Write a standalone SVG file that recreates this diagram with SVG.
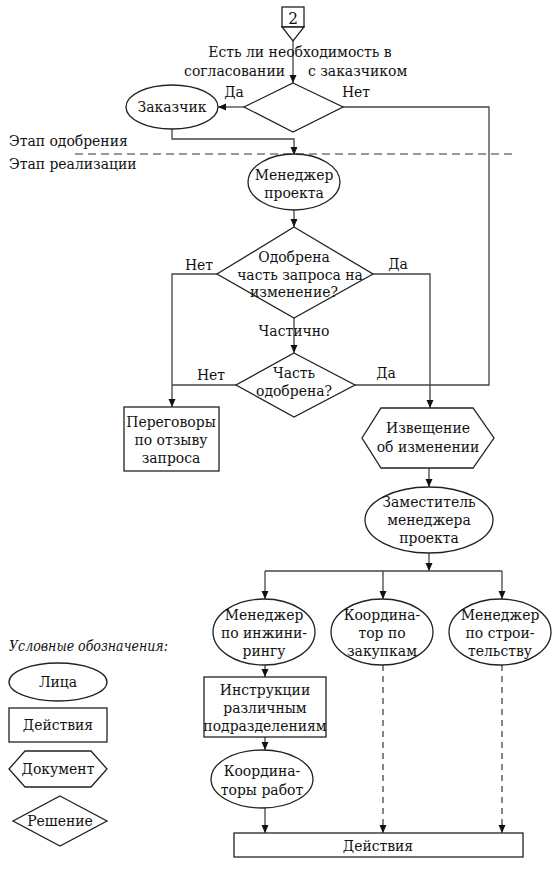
<svg xmlns="http://www.w3.org/2000/svg" width="559" height="870" viewBox="0 0 559 870">
<defs>
<marker id="ah" markerUnits="userSpaceOnUse" markerWidth="9" markerHeight="8" refX="8" refY="4" orient="auto">
<path d="M0,0.5 L8,4 L0,7.5 z" fill="#111"/>
</marker>
<style>
text{font-family:'DejaVu Serif Condensed','Liberation Serif',serif;font-size:15.5px;fill:#111;text-anchor:middle}
.st{text-anchor:start}
.en{text-anchor:end}
.it{font-style:italic;font-size:14px}
.s{fill:#fff;stroke:#222;stroke-width:1.3}
.c{fill:none;stroke:#444;stroke-width:1.3}
.d{fill:none;stroke:#444;stroke-width:1.3;stroke-dasharray:6 5}
</style>
</defs>
<rect width="559" height="870" fill="#fff"/>

<g id="stage-labels">
<text class="st" x="9" y="146">Этап одобрения</text>
<text class="st" x="9" y="169">Этап реализации</text>
<line x1="75" y1="154" x2="512" y2="154" stroke="#777" stroke-width="1.6" stroke-dasharray="8 5"/>
</g>

<g id="connectors">
<path class="c" d="M293,41 V83" marker-end="url(#ah)"/>
<path class="c" d="M244,107 H218" marker-end="url(#ah)"/>
<path class="c" d="M343,107 H489 V385 H355"/>
<path class="c" d="M172,129 V139 H294 V155" marker-end="url(#ah)"/>
<path class="c" d="M294,210 V227" marker-end="url(#ah)"/>
<path class="c" d="M217,274 H172 V407" marker-end="url(#ah)"/>
<path class="c" d="M373,274 H430 V408" marker-end="url(#ah)"/>
<path class="c" d="M294,318 V353" marker-end="url(#ah)"/>
<path class="c" d="M236,385 H172"/>
<path class="c" d="M429,468 V487" marker-end="url(#ah)"/>
<path class="c" d="M429,553 V571" marker-end="url(#ah)"/>
<path class="c" d="M265,571 H502"/>
<path class="c" d="M265,571 V599" marker-end="url(#ah)"/>
<path class="c" d="M383,571 V599" marker-end="url(#ah)"/>
<path class="c" d="M502,571 V599" marker-end="url(#ah)"/>
<path class="c" d="M265,665 V677" marker-end="url(#ah)"/>
<path class="c" d="M265,737 V750" marker-end="url(#ah)"/>
<path class="c" d="M265,808 V833" marker-end="url(#ah)"/>
<path class="d" d="M383,665 V833" marker-end="url(#ah)"/>
<path class="d" d="M502,665 V833" marker-end="url(#ah)"/>
</g>

<g id="connector-labels">
<text x="300" y="57">Есть ли необходимость в</text>
<text class="en" x="285" y="76">согласовании</text>
<text class="st" x="308" y="76">с заказчиком</text>
<text x="234" y="97">Да</text>
<text x="356" y="97">Нет</text>
<text x="199" y="270">Нет</text>
<text x="398" y="269">Да</text>
<text x="294" y="336">Частично</text>
<text x="211" y="380">Нет</text>
<text x="386" y="378">Да</text>
</g>

<g id="start">
<rect class="s" x="282" y="7" width="22" height="20"/>
<polygon class="s" points="282,27 304,27 293,41"/>
<text x="293" y="24" style="font-size:17px">2</text>
</g>

<g id="decision-customer">
<polygon class="s" points="293,83 343,107 293,132 244,107"/>
</g>

<g id="customer">
<ellipse class="s" cx="172" cy="107" rx="46" ry="22"/>
<text x="172" y="112">Заказчик</text>
</g>

<g id="project-manager">
<ellipse class="s" cx="294" cy="182" rx="46" ry="28"/>
<text x="294" y="180">Менеджер</text>
<text x="294" y="198">проекта</text>
</g>

<g id="decision-approved">
<polygon class="s" points="294,227 373,274 294,318 217,274"/>
<text x="294" y="262">Одобрена</text>
<text x="300" y="280">часть запроса на</text>
<text x="294" y="297">изменение?</text>
</g>

<g id="decision-part">
<polygon class="s" points="294,353 355,385 294,417 236,385"/>
<text x="294" y="378">Часть</text>
<text x="294" y="396">одобрена?</text>
</g>

<g id="negotiation">
<rect class="s" x="124" y="407" width="95" height="64"/>
<text x="171" y="427">Переговоры</text>
<text x="171" y="445">по отзыву</text>
<text x="171" y="463">запроса</text>
</g>

<g id="change-notice">
<polygon class="s" points="362,438 381,408 473,408 494,438 473,468 381,468"/>
<text x="428" y="433">Извещение</text>
<text x="428" y="452">об изменении</text>
</g>

<g id="deputy">
<ellipse class="s" cx="429" cy="520" rx="64" ry="33"/>
<text x="429" y="507">Заместитель</text>
<text x="429" y="525">менеджера</text>
<text x="429" y="543">проекта</text>
</g>

<g id="eng-manager">
<ellipse class="s" cx="264" cy="632" rx="51" ry="33"/>
<text x="264" y="620">Менеджер</text>
<text x="264" y="638">по инжини-</text>
<text x="264" y="656">рингу</text>
</g>

<g id="procurement">
<ellipse class="s" cx="382" cy="632" rx="51" ry="33"/>
<text x="382" y="620">Координа-</text>
<text x="382" y="638">тор по</text>
<text x="382" y="656">закупкам</text>
</g>

<g id="construction-manager">
<ellipse class="s" cx="500" cy="632" rx="51" ry="33"/>
<text x="500" y="620">Менеджер</text>
<text x="500" y="638">по строи-</text>
<text x="500" y="656">тельству</text>
</g>

<g id="instructions">
<rect class="s" x="204" y="677" width="122" height="60"/>
<text x="265" y="695">Инструкции</text>
<text x="265" y="713">различным</text>
<text x="265" y="731">подразделениям</text>
</g>

<g id="work-coordinators">
<ellipse class="s" cx="262" cy="779" rx="51" ry="29"/>
<text x="262" y="776">Координа-</text>
<text x="262" y="795">торы работ</text>
</g>

<g id="actions">
<rect class="s" x="234" y="833" width="289" height="24"/>
<text x="378" y="851">Действия</text>
</g>

<g id="legend">
<text class="st it" x="9" y="651">Условные обозначения:</text>
<ellipse class="s" cx="58" cy="682" rx="49" ry="19"/>
<text x="58" y="687">Лица</text>
<rect class="s" x="9" y="708" width="98" height="34"/>
<text x="58" y="730">Действия</text>
<polygon class="s" points="9,769 25,751 91,751 107,769 91,787 25,787"/>
<text x="58" y="774">Документ</text>
<polygon class="s" points="60,796 107,821 60,846 13,821"/>
<text x="60" y="826">Решение</text>
</g>
</svg>
